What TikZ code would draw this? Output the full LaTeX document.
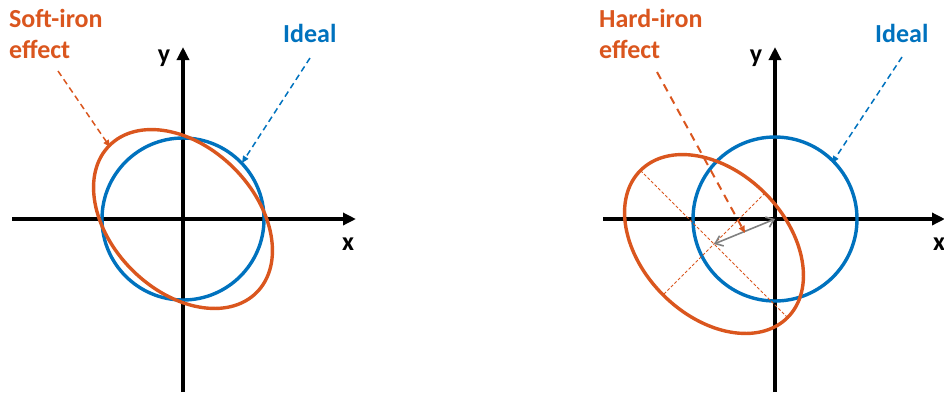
\documentclass[tikz,border=0pt]{standalone}
\usepackage{fontspec}
\setmainfont{Carlito}
\usetikzlibrary{arrows.meta}
\definecolor{ored}{RGB}{218,86,30}
\definecolor{iblue}{RGB}{0,114,190}
\definecolor{agray}{RGB}{128,128,128}
\tikzset{
  axis/.style={line width=3.6pt,-{Triangle[length=13pt,width=12pt]}},
  idealc/.style={draw=iblue,line width=3.4pt},
  effc/.style={draw=ored,line width=3.4pt},
  lbl/.style={font=\fontsize{26}{31}\selectfont\bfseries,inner sep=0pt},
  axlbl/.style={font=\fontsize{26}{30}\selectfont\bfseries,inner sep=0pt},
  pointer/.style={dashed,dash pattern=on 6pt off 4pt,line width=1.5pt,-{Triangle[length=7pt,width=6pt]}},
  guide/.style={draw=ored,line width=0.9pt,dash pattern=on 3pt off 2pt},
}
\begin{document}
\begin{tikzpicture}[x=1pt,y=-1pt]
\useasboundingbox (0,0) rectangle (944,392);
% ---------- left panel ----------
\coordinate (LO) at (183,219);
\coordinate (Lxs) at (12,219);
\coordinate (Lxe) at (356,219);
\coordinate (Lys) at (183,392);
\coordinate (Lye) at (183,47);
\draw[axis] (Lxs) -- (Lxe);
\draw[axis] (Lys) -- (Lye);
\node[axlbl,anchor=center] (Lx) at (348,244) {x};
\node[axlbl,anchor=center] (Ly) at (164,58) {y};
\draw[idealc] (LO) circle[radius=81];
\draw[effc,rotate around={-45:(LO)}] (LO) ellipse[x radius=104,y radius=72];
\node[lbl,text=ored,align=left,anchor=north west] (Lsoft) at (9,9.5) {Soft-iron\\effect};
\node[lbl,text=iblue,anchor=base west] (Lideal) at (283,42) {Ideal};
\coordinate (Lsa) at (58,71);
\coordinate (Lsb) at (110,147);
\coordinate (Lia) at (310,58);
\coordinate (Lib) at (242,163);
\draw[pointer,ored] (Lsa) -- (Lsb);
\draw[pointer,iblue] (Lia) -- (Lib);
% ---------- right panel ----------
\coordinate (RO) at (775,219);
\coordinate (Rxs) at (603,219);
\coordinate (Rxe) at (945,219);
\coordinate (Rys) at (775,392);
\coordinate (Rye) at (775,47);
\draw[axis] (Rxs) -- (Rxe);
\draw[axis] (Rys) -- (Rye);
\node[axlbl,anchor=center] (Rx) at (939,244) {x};
\node[axlbl,anchor=center] (Ry) at (756,58) {y};
\draw[idealc] (RO) circle[radius=82];
\coordinate (EC) at (714,244);
\coordinate (Ma) at (640.5,170.5);
\coordinate (Mb) at (787.5,317.5);
\coordinate (Na) at (765,193);
\coordinate (Nb) at (663,295);
\draw[guide] (Ma) -- (Mb);
\draw[guide] (Na) -- (Nb);
\draw[effc,rotate around={-45:(EC)}] (EC) ellipse[x radius=104,y radius=72];
\draw[agray,line width=1.6pt,{Straight Barb[length=7pt,width=11pt]}-{Straight Barb[length=7pt,width=11pt]}] (EC) -- (RO);
\node[lbl,text=ored,align=left,anchor=north west] (Rhard) at (599,9.5) {Hard-iron\\effect};
\node[lbl,text=iblue,anchor=base west] (Rideal) at (875,42) {Ideal};
\coordinate (Rha) at (657,72);
\coordinate (Rhb) at (745,233);
\coordinate (Ria) at (902,57);
\coordinate (Rib) at (832,163);
\draw[pointer,ored,line width=2pt,dash pattern=on 8pt off 6pt] (Rha) -- (Rhb);
\draw[pointer,iblue] (Ria) -- (Rib);
\end{tikzpicture}
\end{document}
